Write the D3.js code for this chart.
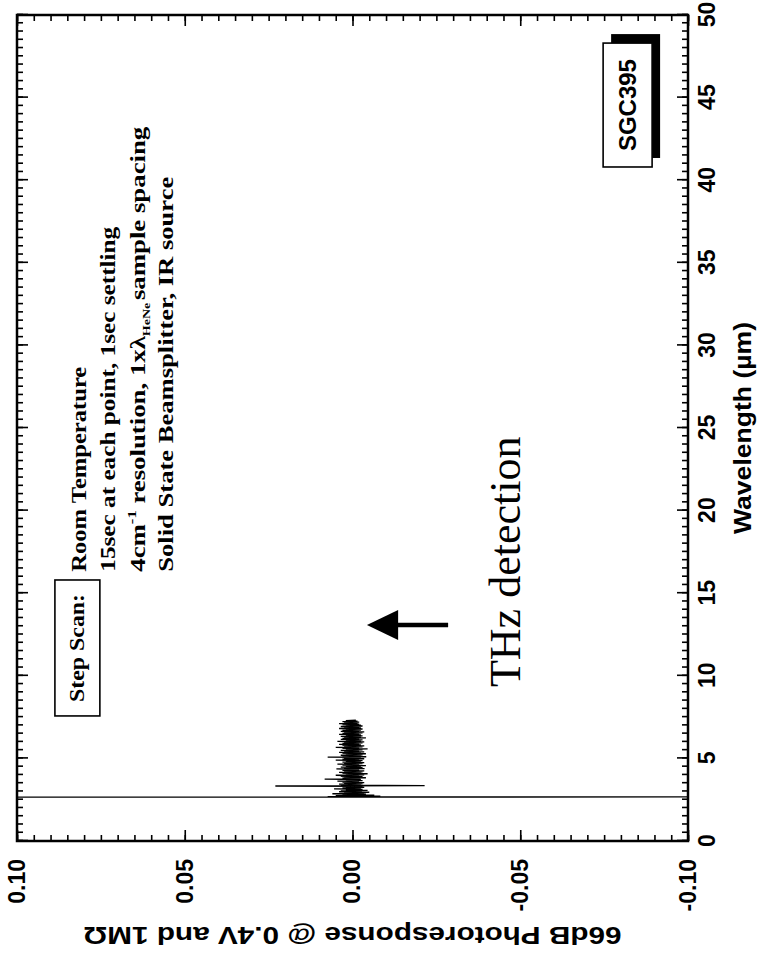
<!DOCTYPE html>
<html>
<head>
<meta charset="utf-8">
<script src="https://cdn.jsdelivr.net/npm/d3@7"></script>
<style>
  body { margin: 0; background: #fff; }
  svg { display: block; }
</style>
</head>
<body>
<svg id="chart" width="759" height="959"></svg>
<script>
// chart values (original orientation: x = wavelength, y = photoresponse)
const wavelengthTicks = [0, 5, 10, 15, 20, 25, 30, 35, 40, 45, 50];
const responseTicks = [0.10, 0.05, 0.00, -0.05, -0.10];
const responseTickLabels = ["0.10", "0.05", "0.00", "-0.05", "-0.10"];

// [wavelength (um), photoresponse]
const trace = [
  [2.655, 0.10], [2.665, -0.10], [2.68, 0.0074], [2.71, -0.0083], [2.74, 0.0050], [2.77, -0.0065],
  [2.80, 0.0030], [2.83, -0.0040], [2.86, 0.0060], [2.89, -0.0035], [2.92, 0.0025], [2.95, -0.0050],
  [2.98, 0.0040], [3.01, -0.0028], [3.04, 0.0035], [3.07, -0.0045], [3.10, 0.0020], [3.13, -0.0030],
  [3.16, 0.0055], [3.19, -0.0025], [3.22, 0.0030], [3.25, -0.0035], [3.28, 0.0020], [3.31, -0.0030],
  [3.33, 0.0230], [3.35, -0.0215], [3.38, 0.0035], [3.41, -0.0025], [3.44, 0.0040], [3.47, -0.0030],
  [3.50, 0.0025], [3.53, -0.0035], [3.56, 0.0030], [3.59, -0.0020], [3.62, 0.0045], [3.65, -0.0030],
  [3.68, 0.0020], [3.71, -0.0025], [3.75, 0.0083], [3.77, -0.0024], [3.80, 0.0030], [3.83, -0.0040],
  [3.86, 0.0025], [3.89, -0.0030], [3.92, 0.0035], [3.95, -0.0020], [3.98, 0.0050], [4.01, -0.0035],
  [4.04, 0.0020], [4.07, -0.0045], [4.10, 0.0030], [4.13, -0.0025], [4.16, 0.0040], [4.19, -0.0030],
  [4.22, 0.0025], [4.25, -0.0035], [4.28, 0.0030], [4.31, -0.0020], [4.36, 0.0048], [4.38, -0.0036],
  [4.41, 0.0025], [4.44, -0.0030], [4.47, 0.0035], [4.50, -0.0025], [4.53, 0.0020], [4.56, -0.0040],
  [4.59, 0.0030], [4.62, -0.0020], [4.65, 0.0045], [4.68, -0.0030], [4.71, 0.0025], [4.74, -0.0035],
  [4.77, 0.0030], [4.80, -0.0025], [4.83, 0.0020], [4.86, -0.0030], [4.89, 0.0050], [4.92, -0.0020],
  [4.95, 0.0030], [4.98, -0.0035], [5.02, 0.0025], [5.05, -0.0025], [5.08, 0.0074], [5.10, -0.0041],
  [5.13, 0.0030], [5.16, -0.0025], [5.19, 0.0035], [5.22, -0.0030], [5.25, 0.0020], [5.28, -0.0040],
  [5.31, 0.0030], [5.34, -0.0025], [5.37, 0.0040], [5.40, -0.0035], [5.43, 0.0025], [5.46, -0.0020],
  [5.49, 0.0035], [5.52, -0.0030], [5.55, 0.0020], [5.58, -0.0045], [5.61, 0.0030], [5.64, -0.0020],
  [5.67, 0.0050], [5.70, -0.0030], [5.73, 0.0025], [5.76, -0.0035], [5.79, 0.0030], [5.82, -0.0025],
  [5.85, 0.0040], [5.88, -0.0020], [5.91, 0.0030], [5.94, -0.0030], [5.97, 0.0025], [6.00, -0.0035],
  [6.03, 0.0045], [6.06, -0.0025], [6.09, 0.0020], [6.12, -0.0030], [6.15, 0.0035], [6.18, -0.0020],
  [6.21, 0.0030], [6.24, -0.0040], [6.27, 0.0025], [6.30, -0.0025], [6.33, 0.0035], [6.36, -0.0030],
  [6.39, 0.0020], [6.42, -0.0025], [6.45, 0.0040], [6.48, -0.0020], [6.51, 0.0030], [6.54, -0.0030],
  [6.57, 0.0025], [6.60, -0.0035], [6.63, 0.0035], [6.66, -0.0020], [6.69, 0.0030], [6.72, -0.0025],
  [6.75, 0.0020], [6.78, -0.0030], [6.81, 0.0040], [6.84, -0.0025], [6.87, 0.0025], [6.90, -0.0020],
  [6.93, 0.0035], [6.96, -0.0030], [6.99, 0.0020], [7.02, -0.0025], [7.05, 0.0030], [7.08, -0.0020],
  [7.11, 0.0040], [7.14, -0.0015], [7.17, 0.0025], [7.20, -0.0020], [7.23, 0.0030], [7.26, -0.0015],
  [7.29, 0.0020], [7.32, -0.0010]
];

const sans = "'Liberation Sans', Arial, Helvetica, sans-serif";
const serif = "'Liberation Serif', 'Times New Roman', serif";

const svg = d3.select("#chart");
svg.selectAll("*").remove();

// the scan is the plot turned a quarter turn, so draw upright and rotate
const g = svg.append("g").attr("transform", "translate(0,959) rotate(-90)");

const x = d3.scaleLinear().domain([0, 50]).range([118, 944]);
const y = d3.scaleLinear().domain([-0.10, 0.10]).range([688, 17]);

const minorX = d3.range(0, 50.001, 0.5);
const minorY = d3.range(-0.10, 0.1001, 0.005);

function styleAxis(sel) {
  sel.select(".domain").remove();
  sel.selectAll("line").attr("stroke", "#000").attr("stroke-width", 1.6);
  sel.attr("font-family", sans).attr("font-size", 23).attr("font-weight", "bold");
  sel.selectAll("text").attr("fill", "#000");
}

// minor ticks, all four sides, pointing inward
g.append("g").attr("transform", `translate(0,${y(-0.10)})`)
  .call(d3.axisBottom(x).tickValues(minorX).tickSize(-6).tickFormat("")).call(styleAxis);
g.append("g").attr("transform", `translate(0,${y(0.10)})`)
  .call(d3.axisTop(x).tickValues(minorX).tickSize(-6).tickFormat("")).call(styleAxis);
g.append("g").attr("transform", `translate(${x(0)},0)`)
  .call(d3.axisLeft(y).tickValues(minorY).tickSize(-6).tickFormat("")).call(styleAxis);
g.append("g").attr("transform", `translate(${x(50)},0)`)
  .call(d3.axisRight(y).tickValues(minorY).tickSize(-6).tickFormat("")).call(styleAxis);

// major ticks + labels
g.append("g").attr("transform", `translate(0,${y(-0.10)})`)
  .call(d3.axisBottom(x).tickValues(wavelengthTicks).tickSizeInner(-11).tickSizeOuter(0)
    .tickPadding(11).tickFormat(d3.format("d")))
  .call(styleAxis);
g.append("g").attr("transform", `translate(0,${y(0.10)})`)
  .call(d3.axisTop(x).tickValues(wavelengthTicks).tickSizeInner(-11).tickSizeOuter(0).tickFormat(""))
  .call(styleAxis);
g.append("g").attr("transform", `translate(${x(0)},0)`)
  .call(d3.axisLeft(y).tickValues(responseTicks).tickSizeInner(-11).tickSizeOuter(0)
    .tickPadding(18).tickFormat((d, i) => responseTickLabels[i]))
  .call(styleAxis);
g.append("g").attr("transform", `translate(${x(50)},0)`)
  .call(d3.axisRight(y).tickValues(responseTicks).tickSizeInner(-11).tickSizeOuter(0).tickFormat(""))
  .call(styleAxis);

// frame
g.append("rect")
  .attr("x", x(0)).attr("y", y(0.10))
  .attr("width", x(50) - x(0)).attr("height", y(-0.10) - y(0.10))
  .attr("fill", "none").attr("stroke", "#000").attr("stroke-width", 2.5);

// axis titles
g.append("text")
  .attr("x", x(25)).attr("y", 743)
  .attr("text-anchor", "middle").attr("dominant-baseline", "central")
  .attr("font-family", sans).attr("font-size", 23).attr("font-weight", "bold")
  .attr("textLength", 212).attr("lengthAdjust", "spacingAndGlyphs")
  .text("Wavelength (\u00b5m)");

g.append("text")
  .attr("transform", `translate(24,${(y(0.10) + y(-0.10)) / 2}) rotate(-90)`)
  .attr("text-anchor", "middle").attr("dominant-baseline", "central")
  .attr("font-family", sans).attr("font-size", 23).attr("font-weight", "bold")
  .attr("textLength", 538).attr("lengthAdjust", "spacingAndGlyphs")
  .text("66dB Photoresponse @ 0.4V and 1M\u03a9");

// trace
g.append("clipPath").attr("id", "plotclip")
  .append("rect")
  .attr("x", x(0)).attr("y", y(0.10))
  .attr("width", x(50) - x(0)).attr("height", y(-0.10) - y(0.10));

g.append("path")
  .datum(trace)
  .attr("clip-path", "url(#plotclip)")
  .attr("fill", "none").attr("stroke", "#000").attr("stroke-width", 1.3)
  .attr("d", d3.line().x(d => x(d[0])).y(d => y(d[1])));

// "Step Scan:" box
const sx0 = x(7.57), sx1 = x(15.8), sy0 = y(0.0887), sy1 = y(0.0753);
g.append("rect")
  .attr("x", sx0).attr("y", sy0).attr("width", sx1 - sx0).attr("height", sy1 - sy0)
  .attr("fill", "#fff").attr("stroke", "#000").attr("stroke-width", 1.6);
g.append("text")
  .attr("x", (sx0 + sx1) / 2).attr("y", (sy0 + sy1) / 2)
  .attr("text-anchor", "middle").attr("dominant-baseline", "central")
  .attr("font-family", serif).attr("font-size", 21).attr("font-weight", "bold")
  .attr("textLength", 108).attr("lengthAdjust", "spacingAndGlyphs")
  .text("Step Scan:");

// condition notes
const noteX = x(16.3);
const noteFont = sel => sel.attr("font-family", serif).attr("font-size", 21).attr("font-weight", "bold")
  .attr("lengthAdjust", "spacingAndGlyphs");

g.append("text").attr("x", noteX).attr("y", 86).call(noteFont).attr("textLength", 205).text("Room Temperature");
g.append("text").attr("x", noteX).attr("y", 115).call(noteFont).attr("textLength", 345)
  .text("15sec at each point, 1sec settling");
const l3 = g.append("text").attr("x", noteX).attr("y", 145).call(noteFont).attr("textLength", 445);
l3.append("tspan").text("4cm");
l3.append("tspan").attr("dy", -9).attr("font-size", 13).text("-1");
l3.append("tspan").attr("dy", 9).text(" resolution, 1x\u03bb");
l3.append("tspan").attr("dy", 5).attr("font-size", 11).text("HeNe");
l3.append("tspan").attr("dy", -5).attr("dx", 2).text("sample spacing");
g.append("text").attr("x", noteX).attr("y", 173).call(noteFont).attr("textLength", 395)
  .text("Solid State Beamsplitter, IR source");

// SGC395 label with drop shadow
const bx0 = x(40.8), bx1 = x(48.3), by0 = y(-0.0747), by1 = y(-0.0893);
g.append("rect")
  .attr("x", bx0 + 9).attr("y", by0 + 8).attr("width", bx1 - bx0).attr("height", by1 - by0)
  .attr("fill", "#000");
g.append("rect")
  .attr("x", bx0).attr("y", by0).attr("width", bx1 - bx0).attr("height", by1 - by0)
  .attr("fill", "#fff").attr("stroke", "#000").attr("stroke-width", 1.6);
g.append("text")
  .attr("x", (bx0 + bx1) / 2).attr("y", (by0 + by1) / 2)
  .attr("text-anchor", "middle").attr("dominant-baseline", "central")
  .attr("font-family", sans).attr("font-size", 24).attr("font-weight", "bold")
  .text("SGC395");

// THz arrow and label
const ax = x(13.07);
g.append("line")
  .attr("x1", ax).attr("x2", ax).attr("y1", y(-0.0285)).attr("y2", y(-0.0130))
  .attr("stroke", "#000").attr("stroke-width", 4.5);
g.append("path")
  .attr("d", `M${ax},${y(-0.0043)} L${ax - 15},${y(-0.0136)} L${ax + 15},${y(-0.0136)} Z`)
  .attr("fill", "#000");

g.append("text")
  .attr("x", x(9.32)).attr("y", y(-0.05))
  .attr("font-family", serif).attr("font-size", 44)
  .text("THz detection");
</script>
</body>
</html>
